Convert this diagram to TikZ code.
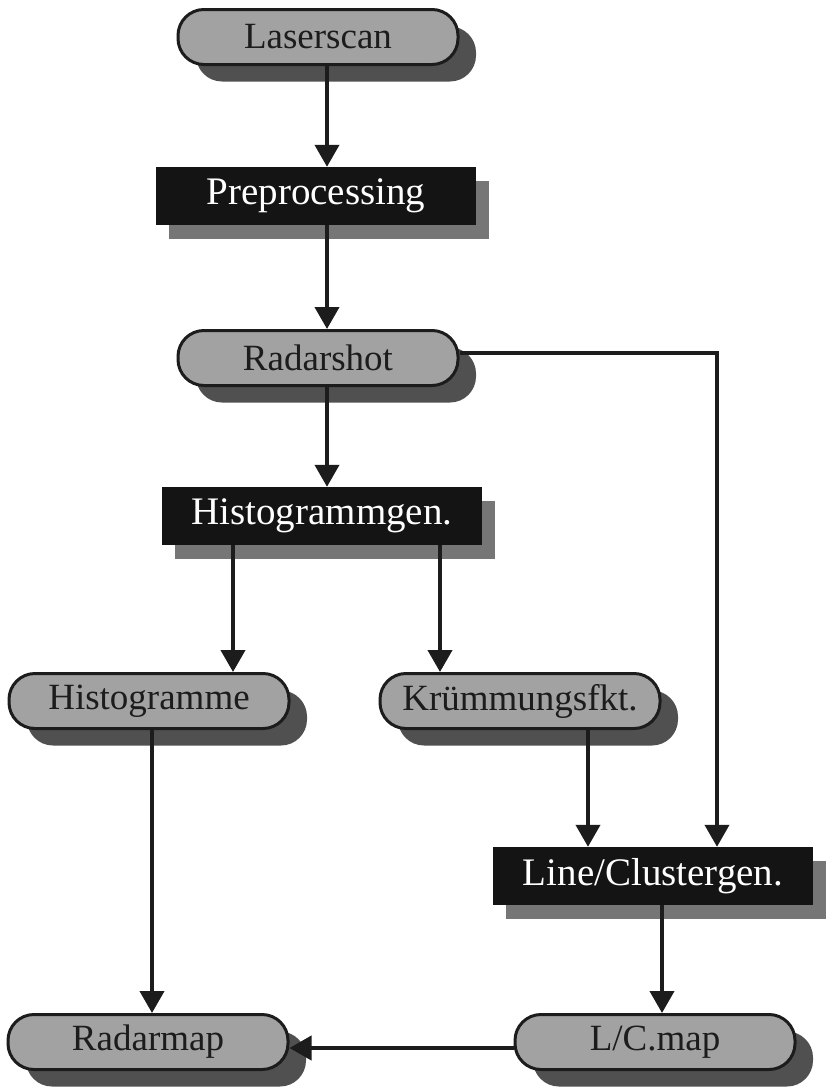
\documentclass[tikz,border=0pt]{standalone}
\usepackage{fontspec}
\setmainfont{Liberation Serif}
\usetikzlibrary{arrows.meta,shadows}
\definecolor{pillgray}{HTML}{A2A2A2}
\definecolor{pillshade}{HTML}{505050}
\definecolor{boxfill}{HTML}{141414}
\definecolor{boxshade}{HTML}{767676}
\definecolor{ink}{HTML}{1C1C1C}
\tikzset{
  pill/.style={rectangle, rounded corners=26pt, minimum width=280pt, minimum height=55pt,
    draw=ink, line width=3pt, fill=pillgray, text=ink, inner sep=0pt,
    font=\fontsize{37}{40}\selectfont,
    drop shadow={shadow xshift=18pt, shadow yshift=-17pt, fill=pillshade, opacity=1}},
  procbox/.style={rectangle, minimum width=320pt, minimum height=58pt,
    fill=boxfill, text=white, inner sep=0pt,
    font=\fontsize{39}{42}\selectfont,
    drop shadow={shadow xshift=13pt, shadow yshift=-14pt, fill=boxshade, opacity=1}},
  arr/.style={draw=ink, line width=4pt, -{Triangle[length=22pt,width=24pt]}},
}
\begin{document}
\begin{tikzpicture}[x=1pt,y=-1pt]
  \useasboundingbox (0,0) rectangle (825,1092);
  \fill[white] (0,0) rectangle (825,1092);

  % column positions of the connectors
  \coordinate (cx) at (327,0);
  \coordinate (hl) at (233,0);
  \coordinate (hr) at (440,0);
  \coordinate (rl) at (152,0);
  \coordinate (kr) at (588,0);
  \coordinate (vx) at (717,0);
  \coordinate (lc) at (662,0);
  \coordinate (ry) at (0,353);
  \coordinate (my) at (0,1048);

  % nodes
  \node[pill]    (laser)  at (318,37)   {Laserscan};
  \node[procbox] (pre)    at (316,196)  {Preprocessing};
  \node[pill]    (radar)  at (318,358)  {Radarshot};
  \node[procbox] (hgen)   at (322,516)  {Histogrammgen.};
  \node[pill]    (histo)  at (149,701)  {Histogramme};
  \node[pill]    (kruemm) at (520,701)  {Krümmungsfkt.};
  \node[procbox] (lcgen)  at (653,876)  {Line/Clustergen.};
  \node[pill]    (rmap)   at (148,1042) {Radarmap};
  \node[pill]    (lcmap)  at (655,1042) {L/C.map};

  % connectors
  \draw[arr] (laser.south -| cx) -- (pre.north -| cx);
  \draw[arr] (pre.south -| cx) -- (radar.north -| cx);
  \draw[arr] (radar.south -| cx) -- (hgen.north -| cx);
  \draw[arr] (hgen.south -| hl) -- (histo.north -| hl);
  \draw[arr] (hgen.south -| hr) -- (kruemm.north -| hr);
  \draw[arr] (radar.east |- ry) -| (lcgen.north -| vx);
  \draw[arr] (kruemm.south -| kr) -- (lcgen.north -| kr);
  \draw[arr] (histo.south -| rl) -- (rmap.north -| rl);
  \draw[arr] (lcgen.south -| lc) -- (lcmap.north -| lc);
  \draw[arr] (lcmap.west |- my) -- (rmap.east |- my);
\end{tikzpicture}
\end{document}
